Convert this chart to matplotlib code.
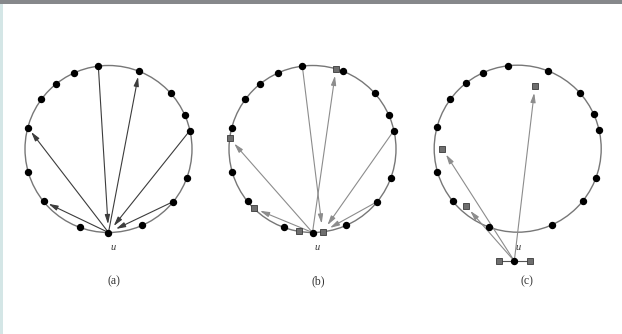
import numpy as np
import matplotlib
matplotlib.use('Agg')
import matplotlib.pyplot as plt
from matplotlib.patches import Circle, Rectangle

# node angles on the ring (degrees, counter-clockwise from east); u sits at 270
node_angles = [12.8, 24.4, 41.8, 68.5, 97, 114.4, 128.6, 143.6, 165.1,
               196, 218.9, 249.9, 294, 321, 339.7]
u_angle = 270

# (a) arrows: u -> node, node -> u
a_out = [68.5, 165.1, 218.9]
a_in = [97, 12.8, 321]

# (b) squares on the ring (shifted copies) and which get arrows
b_squares = [73.7, 172.7, 225.1, 261, 277]
b_out = [73.7, 172.7, 225.1]
b_in_from = [97, 12.8, 321]
b_in_to = 277

# (c) squares moved inside the ring, offsets from centre in px (x right, y up)
c_squares_dx = [17.3, -75.4, -52.0]
c_squares_dy = [62.7, 0.0, -57.0]
# u moved below the ring with two square neighbours
c_u = (514.3, 261)
c_side_dx = [-15.5, 15.7]

labels = ['(a)', '(b)', '(c)']
centers = [(108.5, 149), (312.5, 149), (517.7, 148.7)]
R = 83.5

fig = plt.figure(figsize=(6.22, 3.34), dpi=100)
ax = fig.add_axes([0, 0, 1, 1])
ax.set_xlim(0, 622)
ax.set_ylim(334, 0)
ax.axis('off')

ax.add_patch(Rectangle((0, 0), 622, 4, color='#86888b', lw=0))
ax.add_patch(Rectangle((0, 4), 3, 330, color='#d4e6e6', lw=0))


def pos(c, ang, r=R):
    t = np.radians(ang)
    return c[0] + r * np.cos(t), c[1] - r * np.sin(t)


def arrow(p0, p1, col, sa=2, sb=4):
    ax.annotate('', xy=p1, xytext=p0,
                arrowprops=dict(arrowstyle='-|>,head_length=0.55,head_width=0.15',
                                color=col, lw=0.8, shrinkA=sa, shrinkB=sb,
                                mutation_scale=10))


def ring(c):
    ax.add_patch(Circle(c, R, fill=False, ec='#777777', lw=1.0))


def dots(pts):
    xs = [p[0] for p in pts]
    ys = [p[1] for p in pts]
    ax.plot(xs, ys, 'o', ms=4.3, color='black', zorder=5)


def squares(pts):
    xs = [p[0] for p in pts]
    ys = [p[1] for p in pts]
    ax.plot(xs, ys, 's', ms=4.8, mfc='#6e6e6e', mec='#3a3a3a', mew=0.6, zorder=6)


serif = ['Liberation Serif', 'DejaVu Serif']

# ---- (a)
c = centers[0]
ring(c)
u = pos(c, u_angle)
for a in a_out:
    arrow(u, pos(c, a), '#3c3c3c', sa=1, sb=4)
for a in a_in:
    arrow(pos(c, a), u, '#3c3c3c', sa=1, sb=6)
dots([pos(c, a) for a in node_angles] + [u])
ax.text(u[0] + 5, 248, 'u', family=serif, style='italic', fontsize=7.5,
        ha='center', va='center', color='#333333')

# ---- (b)
c = centers[1]
ring(c)
u = pos(c, u_angle)
for a in b_out:
    arrow(u, pos(c, a), '#8c8c8c', sa=1, sb=5)
for a in b_in_from:
    arrow(pos(c, a), pos(c, b_in_to), '#8c8c8c', sa=1, sb=6)
dots([pos(c, a) for a in node_angles] + [u])
squares([pos(c, a) for a in b_squares])
ax.text(u[0] + 5, 248, 'u', family=serif, style='italic', fontsize=7.5,
        ha='center', va='center', color='#333333')

# ---- (c)
c = centers[2]
ring(c)
sq = [(c[0] + dx, c[1] - dy) for dx, dy in zip(c_squares_dx, c_squares_dy)]
for p in sq:
    arrow(c_u, p, '#8c8c8c', sa=1, sb=5)
side = [(c_u[0] + dx, c_u[1]) for dx in c_side_dx]
ax.plot([side[0][0], side[1][0]], [c_u[1], c_u[1]], color='#555555', lw=0.8, zorder=4)
dots([pos(c, a) for a in node_angles] + [c_u])
squares(sq + side)
ax.text(c_u[0] + 4, 248, 'u', family=serif, style='italic', fontsize=7.5,
        ha='center', va='center', color='#333333')

for (cx, cy), lab, lx in zip(centers, labels, [114, 318, 527]):
    ax.text(lx, 281, lab, family=serif, fontsize=8.5, ha='center', va='center',
            color='#333333')

fig.savefig('out.png', dpi=100)
